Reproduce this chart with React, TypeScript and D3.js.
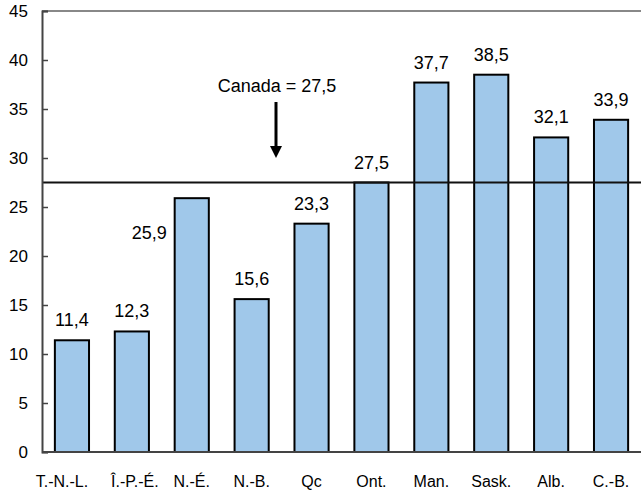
import React, { useEffect, useRef } from 'react';
import * as d3 from 'd3';

const provinces = ['T.-N.-L.', 'Î.-P.-É.', 'N.-É.', 'N.-B.', 'Qc', 'Ont.', 'Man.', 'Sask.', 'Alb.', 'C.-B.'];
const rates = [11.4, 12.3, 25.9, 15.6, 23.3, 27.5, 37.7, 38.5, 32.1, 33.9];
const yTicks = [0, 5, 10, 15, 20, 25, 30, 35, 40, 45];
const canadaValue = 27.5;
const canadaLabel = 'Canada = 27,5';

const fmt = (v: number) => v.toFixed(1).replace('.', ',');

const App: React.FC = () => {
    const ref = useRef<SVGSVGElement>(null);

    useEffect(() => {
        const width = 641;
        const height = 493;
        const margin = { top: 11, right: 0, bottom: 41, left: 42 };

        const svg = d3.select(ref.current);
        svg.selectAll('*').remove();
        svg.attr('width', width).attr('height', height);

        const font = '"Liberation Sans", Arial, Helvetica, sans-serif';

        const x = d3.scaleBand()
            .domain(provinces)
            .range([margin.left, width - margin.right])
            .paddingInner(0.43)
            .paddingOuter(0.215);

        const y = d3.scaleLinear()
            .domain([0, 45])
            .range([height - margin.bottom, margin.top]);

        // top border
        svg.append('line')
            .attr('x1', margin.left).attr('x2', width)
            .attr('y1', y(45)).attr('y2', y(45))
            .attr('stroke', '#888').attr('stroke-width', 2);

        // bars
        svg.selectAll('rect.bar')
            .data(rates)
            .enter()
            .append('rect')
            .attr('class', 'bar')
            .attr('x', (d, i) => x(provinces[i]) as number)
            .attr('y', d => y(d))
            .attr('width', x.bandwidth())
            .attr('height', d => y(0) - y(d))
            .attr('fill', '#a0c8ea')
            .attr('stroke', '#000')
            .attr('stroke-width', 2);

        // Canada average line
        svg.append('line')
            .attr('x1', margin.left).attr('x2', width)
            .attr('y1', y(canadaValue)).attr('y2', y(canadaValue))
            .attr('stroke', '#111').attr('stroke-width', 2);

        // value labels (N.-É. sits left of its bar)
        svg.selectAll('text.val')
            .data(rates)
            .enter()
            .append('text')
            .attr('class', 'val')
            .attr('x', (d, i) => {
                const cx = (x(provinces[i]) as number) + x.bandwidth() / 2;
                return provinces[i] === 'N.-É.' ? (x(provinces[i]) as number) - 8 : cx;
            })
            .attr('y', (d, i) => provinces[i] === 'N.-É.' ? y(d) + 41 : y(d) - 14)
            .attr('text-anchor', (d, i) => provinces[i] === 'N.-É.' ? 'end' : 'middle')
            .attr('font-family', font)
            .attr('font-size', 18)
            .text(d => fmt(d));

        // y axis
        const yAxis = svg.append('g')
            .attr('transform', `translate(${margin.left},0)`)
            .call(d3.axisRight(y).tickValues(yTicks).tickSize(6).tickFormat(d3.format('d')));
        yAxis.select('.domain').attr('stroke', '#444').attr('stroke-width', 2);
        yAxis.selectAll('.tick line').attr('stroke', '#444').attr('stroke-width', 1.5);
        yAxis.selectAll('.tick text')
            .attr('x', -14)
            .attr('text-anchor', 'end')
            .attr('font-family', font)
            .attr('font-size', 17)
            .attr('fill', '#000');

        // x axis
        svg.append('line')
            .attr('x1', margin.left).attr('x2', width)
            .attr('y1', y(0)).attr('y2', y(0))
            .attr('stroke', '#444').attr('stroke-width', 2);

        svg.selectAll('text.cat')
            .data(provinces)
            .enter()
            .append('text')
            .attr('class', 'cat')
            .attr('x', (d, i) => (x(d) as number) + x.bandwidth() / 2 + (i === 0 ? -10 : i === 1 ? 3 : 0))
            .attr('y', y(0) + 35)
            .attr('text-anchor', 'middle')
            .attr('font-family', font)
            .attr('font-size', 16)
            .text(d => d);

        // annotation
        const ax = 276;
        svg.append('text')
            .attr('x', ax + 1).attr('y', 92)
            .attr('text-anchor', 'middle')
            .attr('font-family', font)
            .attr('font-size', 18)
            .text(canadaLabel);
        svg.append('line')
            .attr('x1', ax).attr('x2', ax)
            .attr('y1', 102).attr('y2', 148)
            .attr('stroke', '#000').attr('stroke-width', 3);
        svg.append('path')
            .attr('d', `M${ax - 6},146 L${ax + 6},146 L${ax},158 Z`)
            .attr('fill', '#000');
    }, []);

    return <svg ref={ref} style={{ position: 'absolute', left: 0, top: 0 }} />;
};

export default App;
